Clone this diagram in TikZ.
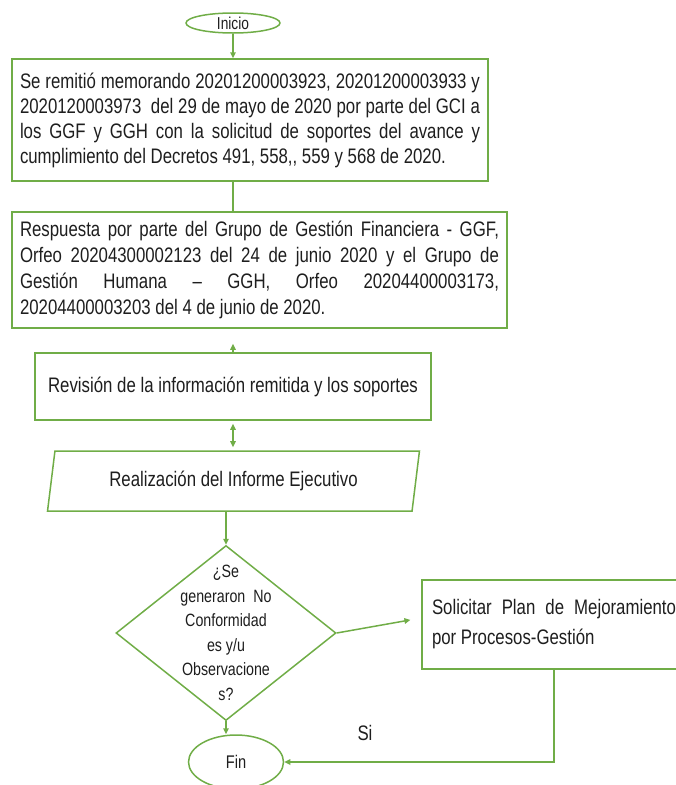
\documentclass[tikz,border=0pt]{standalone}
\usepackage{fontspec}
\setmainfont{Liberation Sans}[FakeStretch=0.8]
\usepackage{xcolor}
\usetikzlibrary{arrows.meta,shapes.geometric,calc}
\definecolor{verde}{HTML}{70AD47}
\definecolor{texto}{HTML}{1E1E1E}
\tikzset{
	>={Triangle[length=6pt,width=5.5pt]},
	linea/.style={draw=verde, line width=1.5pt},
	flecha/.style={linea, ->},
	base/.style={linea, text=texto},
	caja/.style={
			base, rectangle, align=justify, inner xsep=8pt,
			font=\fontsize{21}{25}\selectfont},
	inicio/.style={
			base, ellipse, inner sep=0pt,
			minimum width=94pt, minimum height=20pt,
			font=\fontsize{17.2}{19}\selectfont},
	datos/.style={
			base, trapezium, trapezium left angle=78.7, trapezium right angle=101.3,
			trapezium stretches=true, minimum width=373pt, minimum height=60pt,
			font=\fontsize{21}{25}\selectfont},
	rombo/.style={
			base, diamond, inner sep=0pt,
			minimum width=220pt, minimum height=175pt},
	pregunta/.style={
			text=texto, align=center,
			font=\fontsize{17.8}{24.5}\selectfont},
	etiqueta/.style={text=texto, font=\fontsize{21}{23}\selectfont}
}

\begin{document}
\begin{tikzpicture}[x=1pt, y=-1pt]
	\useasboundingbox (0,0) rectangle (676,785);
	\clip (0,0) rectangle (676,785);

	% Inicio y cajas de proceso
	\node (ini) at (233,23) [inicio] {Inicio};
	\node (rem) at (250,120) [caja, text width=460pt, minimum height=122pt]
		{Se remitió memorando 20201200003923, 20201200003933 y\linebreak
		 2020120003973\ \ del 29 de mayo de 2020 por parte del GCI a\linebreak
		 los GGF y GGH con la solicitud de soportes del avance y\linebreak
		 cumplimiento del Decretos 491, 558,{}, 559 y 568 de 2020.};
	\node (resp) at (259.5,270) [caja, text width=479pt, minimum height=116pt,
		font=\fontsize{21}{26}\selectfont]
		{Respuesta por parte del Grupo de Gestión Financiera - GGF,\linebreak
		 Orfeo 20204300002123 del 24 de junio 2020 y el Grupo de\linebreak
		 Gestión Humana – GGH, Orfeo 20204400003173,\linebreak
		 20204400003203 del 4 de junio de 2020.};
	\node (rev) at (233,386.5) [caja, align=center, minimum width=396pt, minimum height=67pt]
		{Revisión de la información remitida y los soportes};
	\node (inf) at (233.5,481) [datos] {Realización del Informe Ejecutivo};

	% Decision
	\node (dec) at (226,633) [rombo] {};
	\node (dectxt) at (226,633) [pregunta]
		{¿Se\\generaron\ \ No\\Conformidad\\es y/u\\Observacione\\s?};
	\node (sol) at (554,624.5) [caja, text width=244pt, inner xsep=10pt,
		minimum height=89pt, font=\fontsize{21}{30}\selectfont]
		{Solicitar Plan de Mejoramiento\linebreak por Procesos-Gestión};

	% Fin
	\node (fin) at (236,762) [inicio, minimum width=95pt, minimum height=54pt,
		font=\fontsize{18.3}{20}\selectfont] {Fin};
	\node (si) at (365,733) [etiqueta] {Si};

	% Conectores
	\draw[flecha] (ini.south) -- (ini.south |- rem.north);
	\draw[linea] (ini.south |- rem.south) -- (ini.south |- resp.north);
	\draw[flecha, shorten >=15pt] (rev.north) -- (rev.north |- resp.south);
	\draw[linea, <->, shorten <=3pt, shorten >=3pt] (rev.south) -- (rev.south |- inf.north);
	\draw[flecha] (dec.north |- inf.south) -- (dec.north);
	\draw[flecha, shorten >=11pt] (dec.east) -- ([yshift=6.5pt]sol.west);
	\draw[flecha] (dec.south) -- (dec.south |- fin.north);
	\draw[flecha] (sol.south) |- (fin.east);
\end{tikzpicture}
\end{document}
